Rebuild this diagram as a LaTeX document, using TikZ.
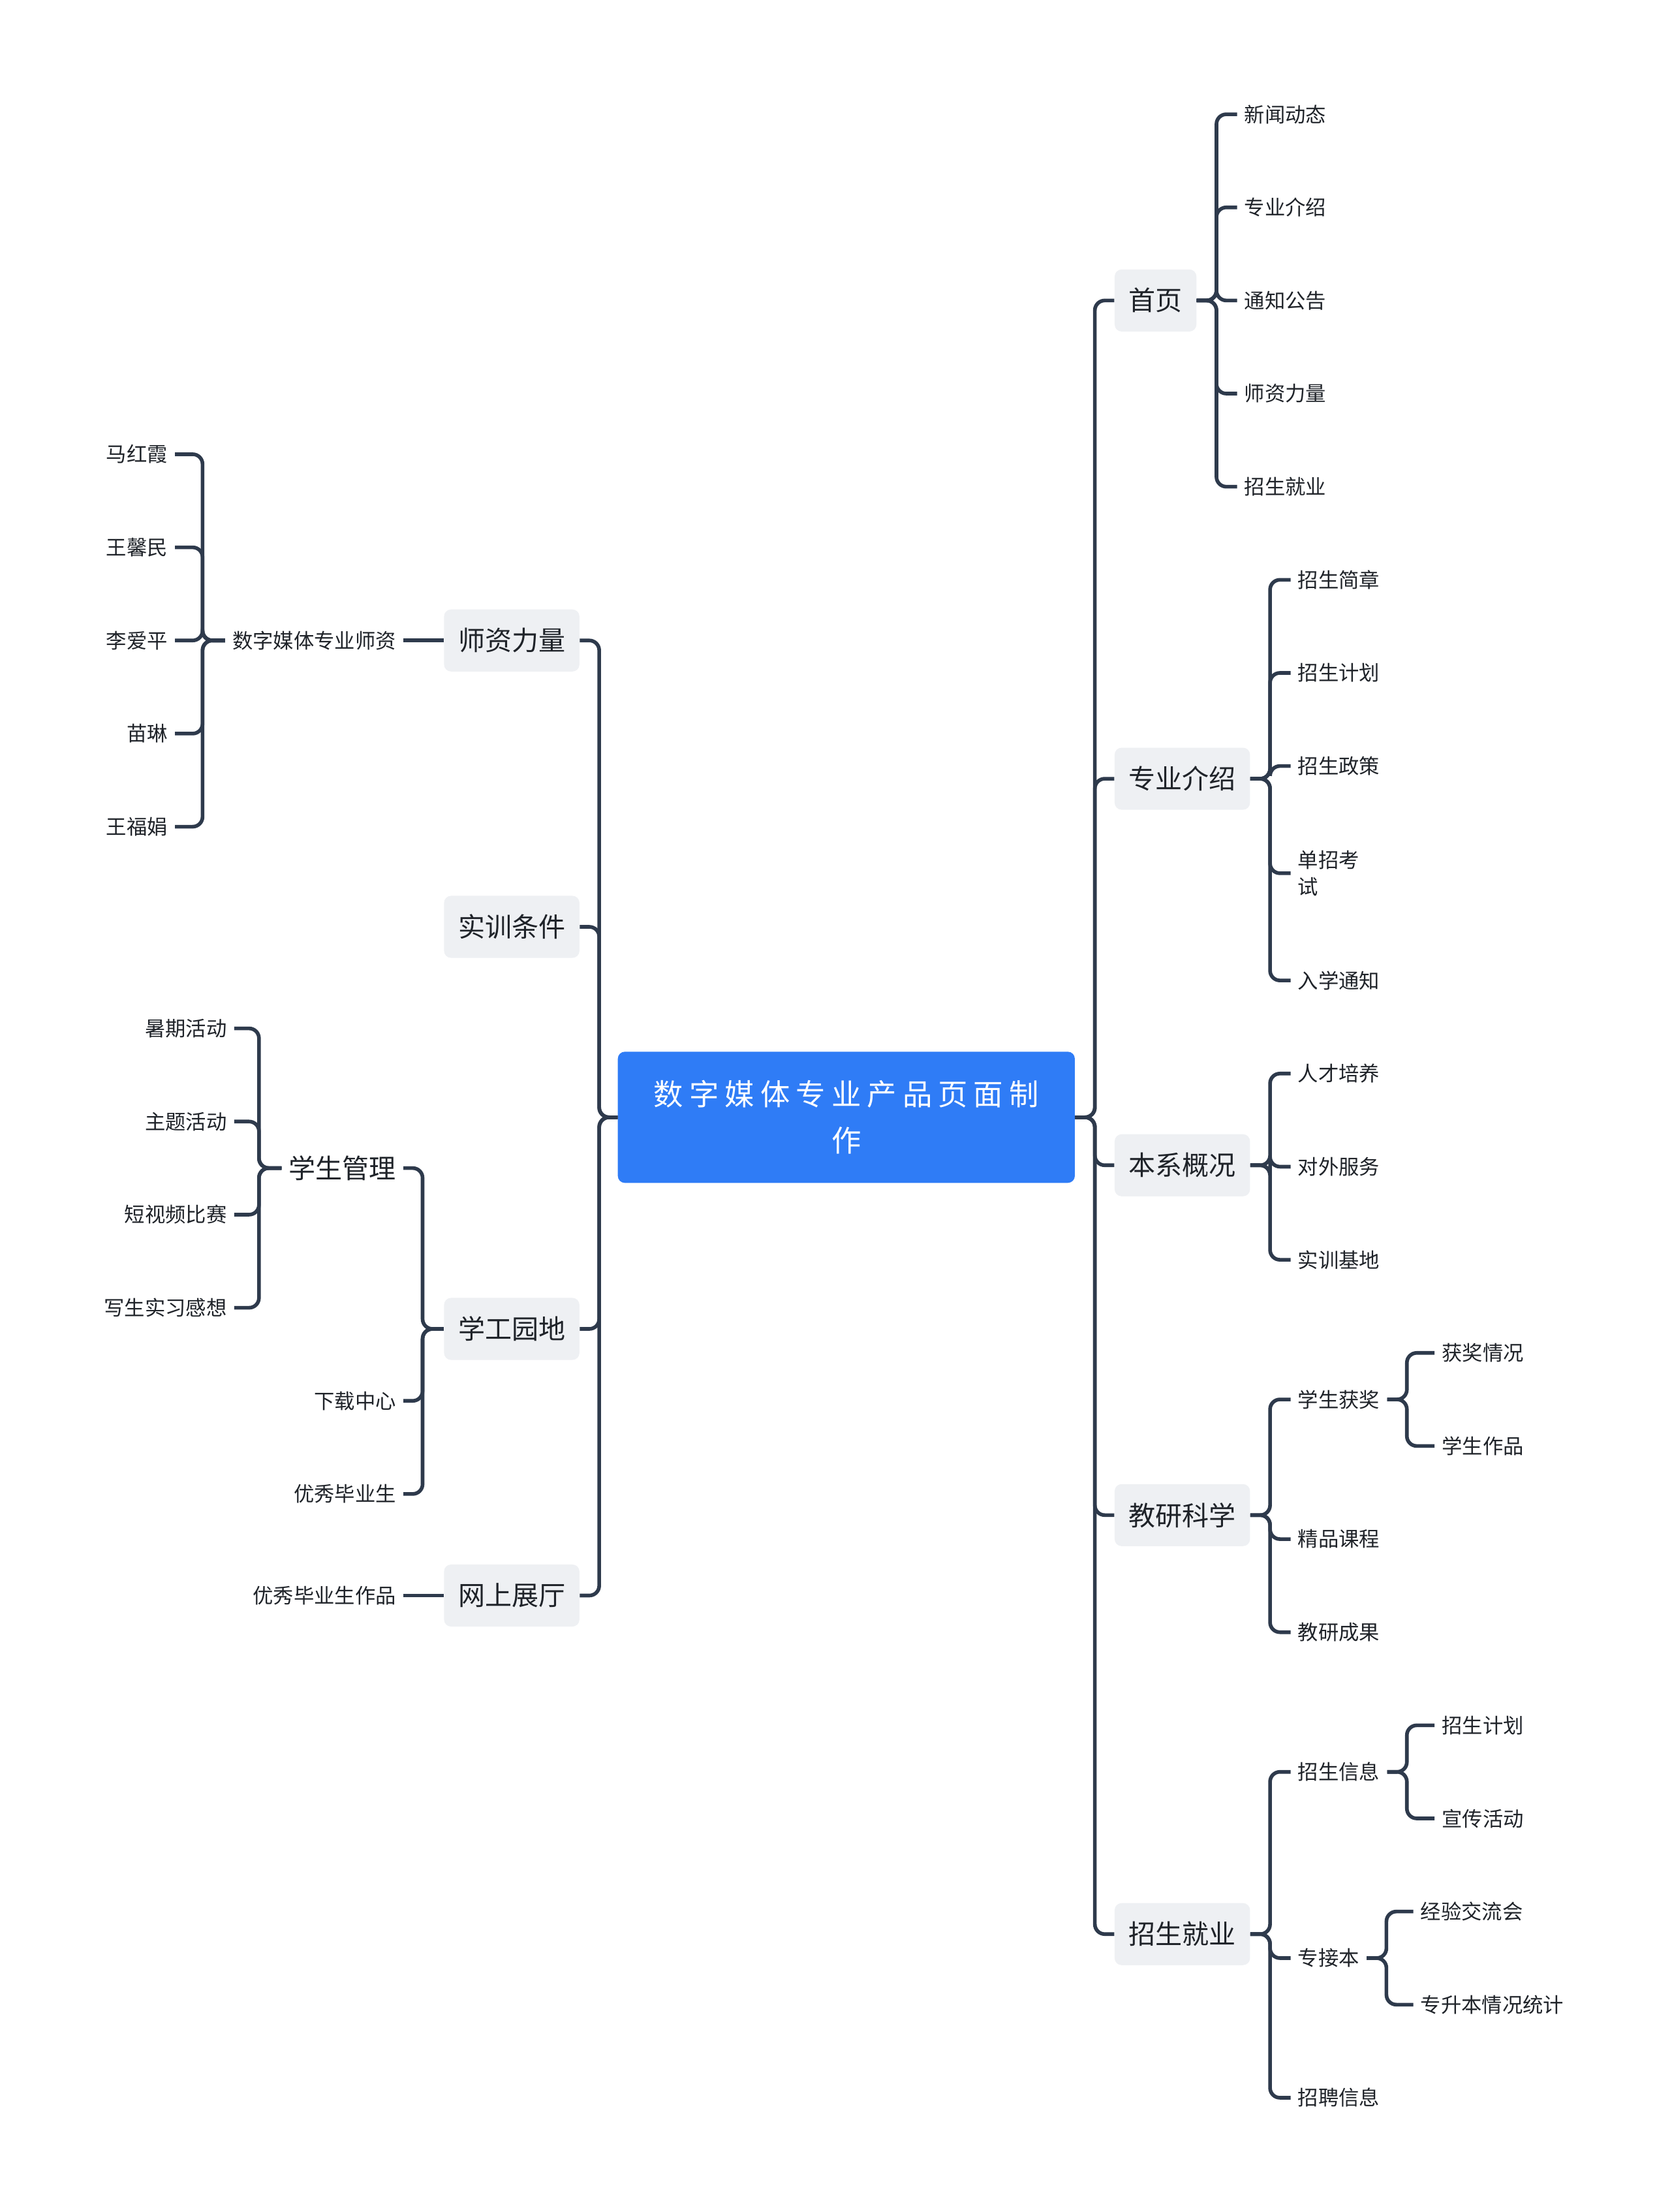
\documentclass[tikz,border=0pt]{standalone}
\usepackage{fontspec}
\setmainfont{Noto Sans CJK SC}
\begin{document}
\begin{tikzpicture}[x=1pt,y=-1pt,
 conn/.style={draw=lc,line width=2.6pt,rounded corners=7pt},
 box/.style={fill=bg,rounded corners=5pt,minimum height=44pt,inner xsep=10pt,font=\fontsize{19}{22}\selectfont,text=tc},
 lr/.style={anchor=west,inner xsep=5pt,inner ysep=2pt,font=\fontsize{14.5}{19}\selectfont,text=tc,align=left},
 ll/.style={anchor=east,inner xsep=5pt,inner ysep=2pt,font=\fontsize{14.5}{19}\selectfont,text=tc,align=right}]
\definecolor{lc}{HTML}{2E3A4C}
\definecolor{bg}{HTML}{EEF0F3}
\definecolor{tc}{HTML}{1F2329}
\definecolor{blue}{HTML}{2F7CF6}
\useasboundingbox (0,0) rectangle (1185,1568);
\node[fill=blue,rounded corners=5pt,minimum width=324pt,minimum height=93pt,text=white,align=center,font=\fontsize{21}{33}\selectfont\addfontfeature{LetterSpace=20}] (c) at (600,792) {数字媒体专业产品页面制\\作};
% right boxes
\node[box,anchor=west] (r1) at (790,213) {首页};
\node[box,anchor=west] (r2) at (790,552) {专业介绍};
\node[box,anchor=west] (r3) at (790,826) {本系概况};
\node[box,anchor=west] (r4) at (790,1074) {教研科学};
\node[box,anchor=west] (r5) at (790,1371) {招生就业};
\foreach \n in {r1,r2,r3,r4,r5} \draw[conn] (c.east) -- ++(14,0) |- (\n.west);
\foreach \t/\y/\i in {新闻动态/81/1,专业介绍/147/2,通知公告/213/3,师资力量/279/4,招生就业/345/5}{
 \node[lr] (a\i) at (877,\y) {\t}; \draw[conn] (r1.east) -- ++(14,0) |- (a\i.west);}
\foreach \t/\y/\i in {招生简章/411/1,招生计划/477/2,招生政策/543/3,单招考\\试/619/4,入学通知/695/5}{
 \node[lr] (b\i) at (915,\y) {\t}; \draw[conn] (r2.east) -- ++(14,0) |- (b\i.west);}
\foreach \t/\y/\i in {人才培养/761/1,对外服务/827/2,实训基地/893/3}{
 \node[lr] (d\i) at (915,\y) {\t}; \draw[conn] (r3.east) -- ++(14,0) |- (d\i.west);}
\foreach \t/\y/\i in {学生获奖/992/1,精品课程/1091/2,教研成果/1157/3}{
 \node[lr] (e\i) at (915,\y) {\t}; \draw[conn] (r4.east) -- ++(14,0) |- (e\i.west);}
\foreach \t/\y/\i in {获奖情况/959/1,学生作品/1025/2}{
 \node[lr] (f\i) at (1017,\y) {\t}; \draw[conn] (e1.east) -- ++(14,0) |- (f\i.west);}
\foreach \t/\y/\i in {招生信息/1256/1,专接本/1388/2,招聘信息/1487/3}{
 \node[lr] (g\i) at (915,\y) {\t}; \draw[conn] (r5.east) -- ++(14,0) |- (g\i.west);}
\foreach \t/\y/\i in {招生计划/1223/1,宣传活动/1289/2}{
 \node[lr] (h\i) at (1017,\y) {\t}; \draw[conn] (g1.east) -- ++(14,0) |- (h\i.west);}
\foreach \t/\y/\i in {经验交流会/1355/1,专升本情况统计/1421/2}{
 \node[lr] (k\i) at (1002,\y) {\t}; \draw[conn] (g2.east) -- ++(14,0) |- (k\i.west);}
% left boxes
\node[box,anchor=east] (l1) at (411,454) {师资力量};
\node[box,anchor=east] (l2) at (411,657) {实训条件};
\node[box,anchor=east] (l3) at (411,942) {学工园地};
\node[box,anchor=east] (l4) at (411,1131) {网上展厅};
\foreach \n in {l1,l2,l3,l4} \draw[conn] (c.west) -- ++(-13,0) |- (\n.east);
\node[ll] (m) at (286,454) {数字媒体专业师资};
\draw[conn] (l1.west) -- (m.east);
\foreach \t/\y/\i in {马红霞/322/1,王馨民/388/2,李爱平/454/3,苗琳/520/4,王福娟/586/5}{
 \node[ll] (n\i) at (124,\y) {\t}; \draw[conn] (m.west) -- ++(-16,0) |- (n\i.east);}
\node[ll,font=\fontsize{19}{22}\selectfont] (s) at (286,828) {学生管理};
\foreach \t/\y/\i in {下载中心/993/2,优秀毕业生/1059/3}{
 \node[ll] (p\i) at (286,\y) {\t}; \draw[conn] (l3.west) -- ++(-15,0) |- (p\i.east);}
\draw[conn] (l3.west) -- ++(-15,0) |- (s.east);
\foreach \t/\y/\i in {暑期活动/729/1,主题活动/795/2,短视频比赛/861/3,写生实习感想/927/4}{
 \node[ll] (q\i) at (166,\y) {\t}; \draw[conn] (s.west) -- ++(-16,0) |- (q\i.east);}
\node[ll] (o) at (286,1131) {优秀毕业生作品};
\draw[conn] (l4.west) -- (o.east);
\end{tikzpicture}
\end{document}
